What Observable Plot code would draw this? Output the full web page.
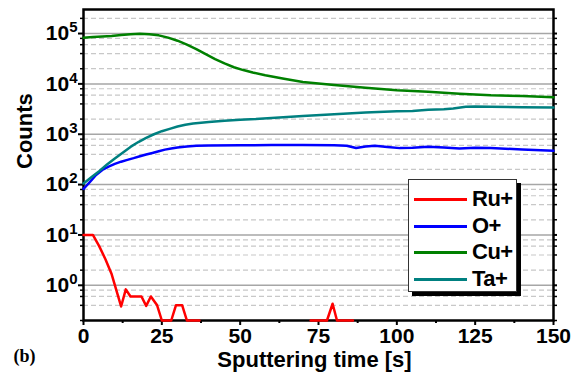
<!DOCTYPE html>
<html><head><meta charset="utf-8">
<script src="https://cdn.jsdelivr.net/npm/d3@7"></script>
<script src="https://cdn.jsdelivr.net/npm/@observablehq/plot@0.6"></script>
<style>
body{margin:0;background:#fff;}
#wrap{position:relative;width:582px;height:385px;font-family:"Liberation Sans",Arial,sans-serif;}
#legend{position:absolute;left:408px;top:179px;width:107px;height:111px;border:1px solid #333;background:#fff;box-shadow:4px 4px 0 #000;}
.row{position:absolute;left:0;height:26px;}
.sw{position:absolute;left:5px;width:53px;height:3px;top:-1.5px;}
.lb{position:absolute;left:63px;top:-13px;font-size:22px;font-weight:bold;line-height:26px;color:#000;letter-spacing:-0.5px;}
</style>
</head><body><div id="wrap"></div>
<script>
const seriesNames = ["Ru+", "O+", "Cu+", "Ta+"];
const seriesColors = ["#ff0000", "#0000ff", "#008000", "#008080"];

const ruTime   = [0, 3, 5, 7, 9, 12, 13.5, 15, 18.5, 20, 21.5, 23.5, 25, 28, 29.5, 31.5, 33, 37, 50, 72.5, 77.7, 79.5, 80.9, 86];
const ruCounts = [10, 10, 6, 3.3, 1.65, 0.38, 0.83, 0.6, 0.6, 0.39, 0.6, 0.4, 0.2, 0.2, 0.4, 0.4, 0.2, 0.2, null, 0.2, 0.2, 0.43, 0.2, 0.2];

const oTime   = [0, 2, 4, 6, 8, 10, 12, 14, 16, 18, 20, 22, 24, 26, 28, 30, 33, 36, 40, 50, 60, 70, 80, 84, 87, 90, 93, 97, 101, 105, 110, 115, 120, 125, 130, 140, 150];
const oCounts = [82, 112, 155, 195, 228, 258, 285, 310, 335, 365, 395, 425, 460, 495, 520, 545, 570, 590, 600, 605, 610, 610, 605, 590, 535, 570, 590, 560, 530, 540, 565, 545, 520, 540, 530, 500, 470];

const cuTime   = [0, 3, 6, 9, 12, 15, 18, 21, 24, 27, 30, 33, 36, 39, 42, 45, 48, 51, 54, 58, 64, 70, 80, 90, 100, 110, 120, 130, 140, 150];
const cuCounts = [82000, 85000, 87000, 89000, 93000, 97000, 99000, 97000, 92000, 83000, 72000, 60000, 49000, 39000, 31000, 25500, 21400, 18800, 16800, 14800, 12600, 10900, 9500, 8400, 7500, 7000, 6400, 5950, 5750, 5400];

const taTime   = [0, 2.5, 5, 7.5, 10, 12.5, 15, 17.5, 20, 22.5, 25, 27.5, 30, 32.5, 35, 40, 45, 50, 55, 60, 70, 80, 90, 100, 105, 110, 115, 118, 122, 125, 130, 140, 150];
const taCounts = [105, 140, 185, 250, 330, 430, 560, 700, 850, 1000, 1150, 1280, 1420, 1540, 1630, 1750, 1850, 1950, 2000, 2100, 2300, 2500, 2700, 2850, 2900, 3050, 3150, 3250, 3500, 3550, 3500, 3450, 3400];

const xTicks = [0, 25, 50, 75, 100, 125, 150];
const xMinorTicks = [12.5, 37.5, 62.5, 87.5, 112.5, 137.5];
const yTicks = [1, 10, 100, 1000, 10000, 100000];
const yMinorTicks = [0.2, 0.4, 0.6, 0.8, 2, 4, 6, 8, 20, 40, 60, 80, 200, 400, 600, 800, 2000, 4000, 6000, 8000, 20000, 40000, 60000, 80000, 200000];

const xLabel = "Sputtering time [s]";
const yLabel = "Counts";
const panelLabel = "(b)";

const series = [
  [ruTime, ruCounts], [oTime, oCounts], [cuTime, cuCounts], [taTime, taCounts]
];
const rows = [];
series.forEach(([ts, cs], i) => ts.forEach((t, j) => rows.push({series: seriesNames[i], t, c: cs[j]})));

const font = "Liberation Sans, Arial, sans-serif";

const svg = Plot.plot({
  width: 582, height: 385,
  marginLeft: 83, marginRight: 29, marginTop: 9, marginBottom: 65,
  style: {fontFamily: font, background: "#fff"},
  x: {domain: [0, 150], label: null},
  y: {type: "log", domain: [0.2, 300000], label: null},
  color: {domain: seriesNames, range: seriesColors},
  marks: [
    Plot.ruleY(yMinorTicks, {stroke: "#c8c8c8", strokeWidth: 1.2, strokeDasharray: "5,3"}),
    Plot.ruleY(yTicks, {stroke: "#a6a6a6", strokeWidth: 1.5}),
    Plot.axisX(xTicks, {tickSize: 5, tickPadding: 3, fontSize: 21, fontWeight: "bold", strokeWidth: 2, label: null, tickFormat: d => String(d)}),
    Plot.axisX(xMinorTicks, {tickSize: 3, strokeWidth: 2, text: null, label: null}),
    Plot.axisY(yTicks, {tickSize: 5, tickPadding: 1, fontSize: 21, fontWeight: "bold", strokeWidth: 2, label: null,
      tickFormat: d => "10^" + Math.round(Math.log10(d))}),
    Plot.axisY(yMinorTicks, {tickSize: 3, strokeWidth: 1.5, text: null, label: null}),
    Plot.axisY(yTicks, {anchor: "right", tickSize: 3, strokeWidth: 2, text: null, label: null}),
    Plot.axisY(yMinorTicks, {anchor: "right", tickSize: 3, strokeWidth: 1.5, text: null, label: null}),
    Plot.frame({stroke: "#000", strokeWidth: 2.5}),
    Plot.line(rows, {x: "t", y: "c", z: "series", stroke: "series", strokeWidth: 2.5, curve: "linear"}),
    Plot.text([yLabel], {frameAnchor: "left", rotate: -90, dx: -59, dy: 4, fontSize: 22, fontWeight: "bold", text: d => d}),
    Plot.text([xLabel], {frameAnchor: "bottom", dx: -4, dy: 46, fontSize: 22, fontWeight: "bold", text: d => d}),
    Plot.text([panelLabel], {frameAnchor: "bottom-left", dx: -70, dy: 41, textAnchor: "start", fontSize: 18, fontWeight: "bold", fontFamily: "Liberation Serif, Times New Roman, serif", text: d => d})
  ]
});

// superscript exponents on y tick labels
svg.querySelectorAll("text").forEach(t => {
  const m = /^10\^(-?\d+)$/.exec(t.textContent);
  if (!m) return;
  t.textContent = "";
  const base = document.createElementNS("http://www.w3.org/2000/svg", "tspan");
  base.textContent = "10";
  const sup = document.createElementNS("http://www.w3.org/2000/svg", "tspan");
  sup.textContent = m[1];
  sup.setAttribute("font-size", "15");
  sup.setAttribute("dy", "-8");
  t.appendChild(base);
  t.appendChild(sup);
});

const wrap = document.getElementById("wrap");
wrap.appendChild(svg);

const legend = document.createElement("div");
legend.id = "legend";
const rowTops = [19, 46, 72, 99];
seriesNames.forEach((name, i) => {
  const r = document.createElement("div");
  r.className = "row";
  r.style.top = rowTops[i] + "px";
  const sw = document.createElement("div");
  sw.className = "sw";
  sw.style.background = seriesColors[i];
  const lb = document.createElement("div");
  lb.className = "lb";
  lb.textContent = name;
  r.appendChild(sw); r.appendChild(lb);
  legend.appendChild(r);
});
wrap.appendChild(legend);
</script>
</body></html>
